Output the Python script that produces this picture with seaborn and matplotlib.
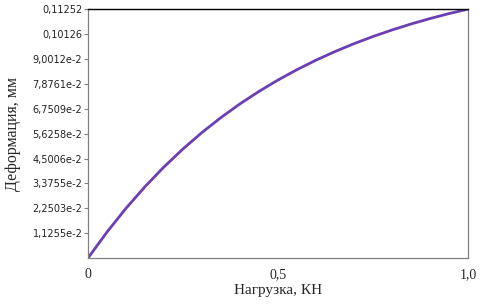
import numpy as np
import pandas as pd
import matplotlib
matplotlib.use("Agg")
import matplotlib.pyplot as plt
import seaborn as sns

# load (kN) vs deformation (mm)
load = [0.0, 0.05, 0.1, 0.15, 0.2, 0.25, 0.3, 0.35, 0.4, 0.45, 0.5,
        0.55, 0.6, 0.65, 0.7, 0.75, 0.8, 0.85, 0.9, 0.95, 1.0]
deformation = [0.0, 0.01176, 0.02249, 0.03227, 0.04120, 0.04933, 0.05676,
               0.06353, 0.06971, 0.07534, 0.08048, 0.08516, 0.08945,
               0.09334, 0.09690, 0.10014, 0.10309, 0.10580, 0.10826,
               0.11050, 0.11252]

y_ticks = [0.011255, 0.022503, 0.033755, 0.045006, 0.056258,
           0.067509, 0.078761, 0.090012, 0.10126, 0.11252]
y_tick_labels = ["1,1255e-2", "2,2503e-2", "3,3755e-2", "4,5006e-2", "5,6258e-2",
                 "6,7509e-2", "7,8761e-2", "9,0012e-2", "0,10126", "0,11252"]
x_ticks = [0.0, 0.5, 1.0]
x_tick_labels = ["0", "0,5", "1,0"]

df = pd.DataFrame({"load": load, "deformation": deformation})

sns.set_style("white")
fig = plt.figure(figsize=(4.86, 3.04), dpi=100)
ax = fig.add_axes([0.181, 0.151, 0.782, 0.819])

sns.lineplot(data=df, x="load", y="deformation", ax=ax,
             color="#6b3fb3", linewidth=2.0)

ax.set_xlim(0, 1.0)
ax.set_ylim(0, 0.11252)

ax.set_yticks(y_ticks)
ax.set_yticklabels(y_tick_labels, fontsize=7, family="DejaVu Sans", color="#222222")
ax.set_xticks(x_ticks)
ax.set_xticklabels(x_tick_labels, fontsize=10, family="Liberation Serif")

ax.tick_params(axis="y", left=True, length=3, width=0.8, color="#808080", pad=1)
ax.tick_params(axis="x", bottom=False, length=0, pad=7)

for side in ["left", "right", "bottom"]:
    ax.spines[side].set_color("#808080")
    ax.spines[side].set_linewidth(0.9)
ax.spines["top"].set_color("black")
ax.spines["top"].set_linewidth(1.0)

ax.set_xlabel("Нагрузка, КН", fontsize=11, family="Liberation Serif", labelpad=2)
ax.set_ylabel("Деформация, мм", fontsize=11.5, family="Liberation Serif", labelpad=8)

fig.savefig("out.png", dpi=100)
